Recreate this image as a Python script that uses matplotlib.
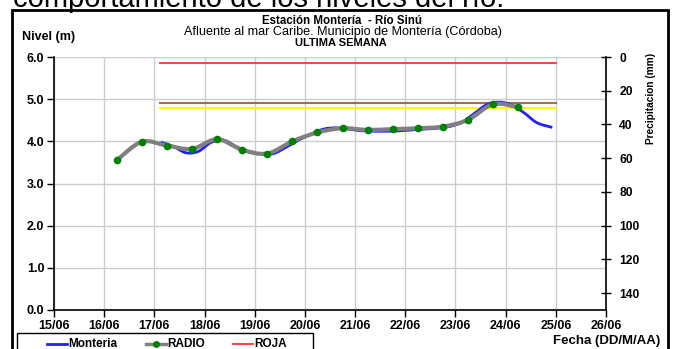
import numpy as np
import matplotlib.pyplot as plt
from matplotlib.path import Path
from matplotlib.patches import PathPatch, Rectangle
from matplotlib.lines import Line2D

plt.rcParams['font.family'] = ['Liberation Sans', 'DejaVu Sans']

# dias desde 15/06 00:00
fechas = ['15/06', '16/06', '17/06', '18/06', '19/06', '20/06',
          '21/06', '22/06', '23/06', '24/06', '25/06', '26/06']

# RADIO (lecturas cada 12 h)
radio_t = [1.25, 1.75, 2.25, 2.75, 3.25, 3.75, 4.25, 4.75, 5.25,
           5.75, 6.25, 6.75, 7.25, 7.75, 8.25, 8.75, 9.25]
radio_nivel = [3.55, 3.99, 3.90, 3.82, 4.05, 3.80, 3.71, 4.00, 4.21,
               4.31, 4.27, 4.29, 4.31, 4.35, 4.51, 4.88, 4.81]

# Monteria (sensor)
mont_t = [2.125, 2.375, 2.625, 2.875, 3.125, 3.375, 3.625, 3.875, 4.125,
          4.375, 4.625, 4.875, 5.125, 5.375, 5.625, 5.875, 6.125, 6.375,
          6.625, 6.875, 7.125, 7.375, 7.625, 7.875, 8.125, 8.375, 8.625,
          8.875, 9.125, 9.375, 9.625, 9.93]
mont_nivel = [3.98, 3.88, 3.73, 3.76, 3.97, 4.03, 3.88, 3.75, 3.70,
              3.71, 3.86, 4.03, 4.17, 4.29, 4.32, 4.29, 4.25, 4.24,
              4.24, 4.25, 4.27, 4.29, 4.31, 4.35, 4.45, 4.66, 4.87,
              4.93, 4.86, 4.67, 4.44, 4.33]

# umbrales
umbral_t = [2.12, 10.0]
roja = 5.86
naranja = 4.90
amarilla = 4.80


def curva_suave(x, y):
    # curva tipo "linea suavizada" de Excel (bezier)
    p = np.column_stack([x, y])
    n = len(p)
    verts = [p[0]]
    codes = [Path.MOVETO]
    for i in range(n - 1):
        p0 = p[i - 1] if i > 0 else p[i]
        p3 = p[i + 2] if i + 2 < n else p[i + 1]
        c1 = p[i] + (p[i + 1] - p0) / 6
        c2 = p[i + 1] - (p3 - p[i]) / 6
        verts += [c1, c2, p[i + 1]]
        codes += [Path.CURVE4] * 3
    return Path(verts, codes)


fig = plt.figure(figsize=(6.76, 3.49), dpi=100)
ax = fig.add_axes([54 / 676, 1 - 310 / 349, 552 / 676, 253 / 349])

ax.set_xlim(0, 11)
ax.set_ylim(0, 6)
ax.set_xticks(range(len(fechas)))
ax.set_xticklabels(fechas)
ax.set_yticks(range(7))
ax.set_yticklabels([f'{v:.1f}' for v in range(7)])
ax.grid(True, color='#cccccc', lw=1)
ax.set_axisbelow(True)
for s in ['top', 'right']:
    ax.spines[s].set_visible(False)
for s in ['left', 'bottom']:
    ax.spines[s].set_color('black')
    ax.spines[s].set_linewidth(1.2)
ax.tick_params(length=5, width=1, labelsize=9, pad=2)
for lab in ax.get_xticklabels() + ax.get_yticklabels():
    lab.set_fontweight('bold')

ax.plot(umbral_t, [roja, roja], color='#ff3030', lw=1.3, zorder=2)
ax.plot(umbral_t, [naranja, naranja], color='#a0704a', lw=1.5, zorder=2)
ax.plot(umbral_t, [amarilla, amarilla], color='#ffff00', lw=1.5, zorder=2)

ax.add_patch(PathPatch(curva_suave(mont_t, mont_nivel), fill=False,
                       edgecolor='#2020ff', lw=2, zorder=3))
ax.add_patch(PathPatch(curva_suave(radio_t, radio_nivel), fill=False,
                       edgecolor='#808080', lw=3, zorder=4))
ax.plot(radio_t, radio_nivel, 'o', color='#008000', ms=4.5, zorder=5)

ax2 = ax.twinx()
ax2.set_ylim(150, 0)
ax2.set_yticks(range(0, 141, 20))
for s in ['top', 'left', 'bottom']:
    ax2.spines[s].set_visible(False)
ax2.spines['right'].set_color('black')
ax2.spines['right'].set_linewidth(1.2)
ax2.tick_params(direction='inout', length=7, width=1, labelsize=8.7, pad=6)
for lab in ax2.get_yticklabels():
    lab.set_fontweight('bold')

# titulos
fig.text(13 / 676, 1 - 7 / 349, 'comportamiento de los niveles del río:',
         fontsize=21, va='baseline', ha='left')
fig.text(342 / 676, 1 - 21 / 349, 'Estación Montería  - Río Sinú',
         fontsize=8.3, fontweight='bold', ha='center', va='center')
fig.text(343 / 676, 1 - 32 / 349,
         'Afluente al mar Caribe. Municipio de Montería (Córdoba)',
         fontsize=9.1, ha='center', va='center')
fig.text(341 / 676, 1 - 43 / 349, 'ULTIMA SEMANA',
         fontsize=8, fontweight='bold', ha='center', va='center')
fig.text(22 / 676, 1 - 37 / 349, 'Nivel (m)', fontsize=9,
         fontweight='bold', ha='left', va='center')
fig.text(651 / 676, 1 - 98 / 349, 'Precipitacion (mm)', fontsize=7.3,
         fontweight='bold', rotation=90, ha='center', va='center')
fig.text(660 / 676, 1 - 341 / 349, 'Fecha (DD/M/AA)', fontsize=9.5,
         fontweight='bold', ha='right', va='center')

# marco
fig.add_artist(Rectangle((12 / 676, -0.05), 656 / 676, 1.05 - 10 / 349,
                         transform=fig.transFigure, fill=False,
                         edgecolor='black', lw=2))

# leyenda
fig.add_artist(Rectangle((17 / 676, -0.05), 296 / 676, 0.05 + 16 / 349,
                         transform=fig.transFigure, fill=False,
                         edgecolor='black', lw=1))
ley_y = 1 - 344 / 349
entradas = [('Monteria', 47, '#2020ff', 2, None),
            ('RADIO', 146, '#808080', 2.5, '#008000'),
            ('ROJA', 233, '#ff3030', 1.3, None)]
for nombre, x0, color, lw, marca in entradas:
    fig.add_artist(Line2D([x0 / 676, (x0 + 20) / 676], [ley_y, ley_y],
                          transform=fig.transFigure, color=color, lw=lw))
    if marca:
        fig.add_artist(Line2D([(x0 + 10) / 676], [ley_y], marker='o', ms=4,
                              color=marca, transform=fig.transFigure))
    fig.text((x0 + 21) / 676, ley_y, nombre, fontsize=8.5,
             fontweight='bold', ha='left', va='center')

fig.savefig('out.png', dpi=100)
